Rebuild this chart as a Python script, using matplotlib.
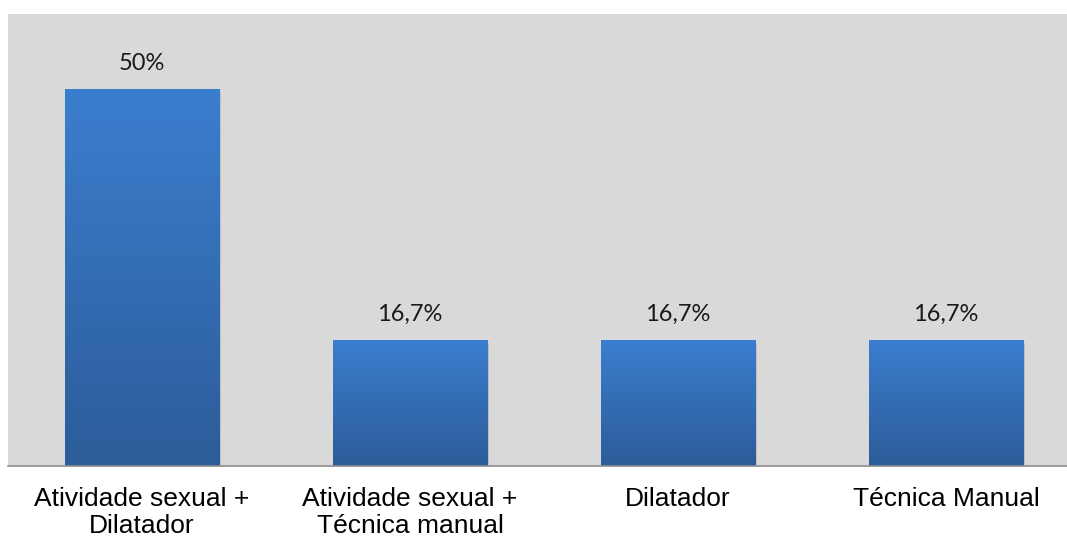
import matplotlib
matplotlib.use("Agg")
import matplotlib.pyplot as plt
import numpy as np
from matplotlib.colors import LinearSegmentedColormap

categories = ["Atividade sexual +\nDilatador", "Atividade sexual +\nTécnica manual",
              "Dilatador", "Técnica Manual"]
values = [50, 16.7, 16.7, 16.7]
value_labels = ["50%", "16,7%", "16,7%", "16,7%"]

W, H = 1067, 538
fig = plt.figure(figsize=(W / 100, H / 100), dpi=100)
fig.patch.set_facecolor("white")
ax = fig.add_axes([8 / W, (H - 466) / H, 1072 / W, (466 - 14) / H])
ax.set_facecolor("#d9d9d9")

x = np.arange(len(categories))
width = 0.575
bars = ax.bar(x, values, width=width, color="none", edgecolor="none", zorder=2)

cmap = LinearSegmentedColormap.from_list("g", ["#2c5c99", "#3b7ecf"])
grad = np.linspace(0, 1, 256).reshape(-1, 1)
for b in bars:
    x0, y0 = b.get_x(), b.get_y()
    w, h = b.get_width(), b.get_height()
    sh = plt.Rectangle((x0 + 0.006, y0 - 0.4), w, h, facecolor="#000000", alpha=0.12,
                       edgecolor="none", zorder=1.5)
    ax.add_patch(sh)
    im = ax.imshow(grad, extent=[x0, x0 + w, y0, y0 + h], origin="lower", cmap=cmap,
                   aspect="auto", zorder=2.5, interpolation="bicubic")
    im.set_clip_path(b)

for xi, v, lab in zip(x, values, value_labels):
    ax.annotate(lab, (xi, v), xytext=(0, 11), textcoords="offset points",
                ha="center", va="bottom", fontsize=17, family=["Lato", "DejaVu Sans"],
                color="#1a1a1a")

ax.set_xlim(-0.5, len(categories) - 0.5)
ax.set_ylim(0, 60)
ax.set_yticks([])
ax.set_xticks(x)
ax.set_xticklabels(categories, fontsize=19, family=["Liberation Sans", "DejaVu Sans"],
                   linespacing=1.18)
ax.tick_params(axis="x", length=0, pad=15)
for s in ["top", "left", "right"]:
    ax.spines[s].set_visible(False)
ax.spines["bottom"].set_color("#8c8c8c")
ax.spines["bottom"].set_linewidth(1.2)
ax.spines["bottom"].set_zorder(3)

fig.savefig("out.png", dpi=100)
